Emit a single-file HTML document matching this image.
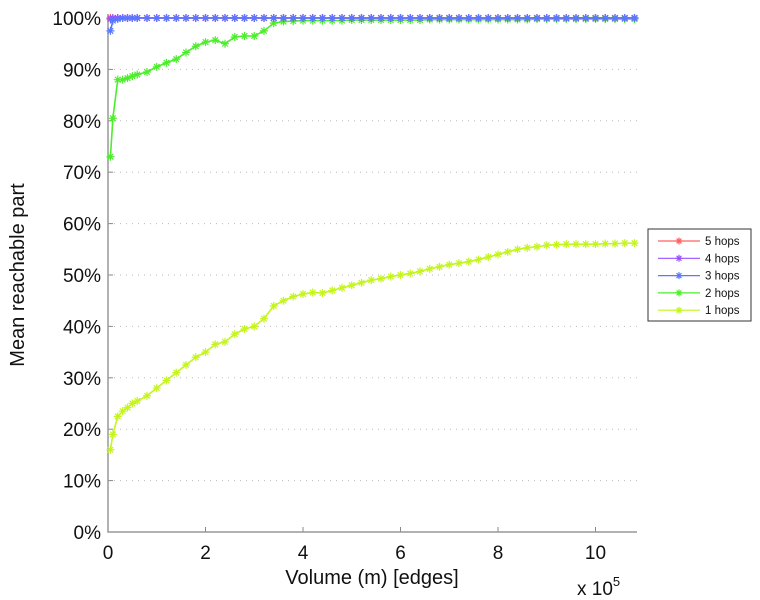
<!DOCTYPE html>
<html><head><meta charset="utf-8"><style>
body{margin:0;background:#fff;}
svg{display:block;font-family:"Liberation Sans",sans-serif;}
</style></head><body>
<svg id="chart" width="760" height="600"></svg>
<script>
const xs=[0.05,0.1,0.2,0.3,0.4,0.5,0.6,0.8,1.0,1.2,1.4,1.6,1.8,2.0,2.2,2.4,2.6,2.8,3.0,3.2,3.4,3.6,3.8,4.0,4.2,4.4,4.6,4.8,5.0,5.2,5.4,5.6,5.8,6.0,6.2,6.4,6.6,6.8,7.0,7.2,7.4,7.6,7.8,8.0,8.2,8.4,8.6,8.8,9.0,9.2,9.4,9.6,9.8,10.0,10.2,10.4,10.6,10.8];
const hop1=[16,19,22.5,23.5,24.2,25,25.5,26.5,28,29.5,31,32.5,34,35,36.5,37,38.5,39.5,40,41.5,44,45,45.8,46.3,46.6,46.5,47,47.5,48,48.5,49,49.3,49.7,50,50.3,50.7,51.2,51.6,52,52.3,52.6,53,53.5,54,54.5,55,55.3,55.5,55.8,55.9,56,56,56,56,56.1,56.1,56.2,56.2];
const hop2=[73,80.5,88,88,88.3,88.7,89,89.5,90.5,91.3,92,93.3,94.5,95.3,95.7,95,96.3,96.5,96.5,97.5,99,99.3,99.4,99.5,99.5,99.5,99.5,99.5,99.6,99.6,99.6,99.6,99.6,99.6,99.6,99.6,99.7,99.7,99.7,99.7,99.7,99.7,99.7,99.7,99.7,99.7,99.7,99.8,99.8,99.8,99.8,99.8,99.8,99.8,99.8,99.8,99.8,99.8];
const hop3=[97.5,99.5,99.8,100,100,100,100,100,100,100,100,100,100,100,100,100,100,100,100,100,100,100,100,100,100,100,100,100,100,100,100,100,100,100,100,100,100,100,100,100,100,100,100,100,100,100,100,100,100,100,100,100,100,100,100,100,100,100];
const hop4=[99.8,100,100,100,100,100,100,100,100,100,100,100,100,100,100,100,100,100,100,100,100,100,100,100,100,100,100,100,100,100,100,100,100,100,100,100,100,100,100,100,100,100,100,100,100,100,100,100,100,100,100,100,100,100,100,100,100,100];
const hop5=[100,100,100,100,100,100,100,100,100,100,100,100,100,100,100,100,100,100,100,100,100,100,100,100,100,100,100,100,100,100,100,100,100,100,100,100,100,100,100,100,100,100,100,100,100,100,100,100,100,100,100,100,100,100,100,100,100,100];
const xTicks=[0,2,4,6,8,10];
const xTickLabels=["0","2","4","6","8","10"];
const yTicks=[0,10,20,30,40,50,60,70,80,90,100];
const yTickLabels=["0%","10%","20%","30%","40%","50%","60%","70%","80%","90%","100%"];
const seriesNames=["5 hops","4 hops","3 hops","2 hops","1 hops"];
const seriesColors=["#ff6060","#9a50ff","#5a78ff","#4cee2c","#c4f51c"];

const svg=document.getElementById('chart');
const NS='http://www.w3.org/2000/svg';
const X0=108,X1=637,Y0=532,Y1=18;
const sx=v=>X0+v*48.75;
const sy=v=>Y0-(v/100)*(Y0-Y1);
function mk(tag,attrs,parent){const e=document.createElementNS(NS,tag);for(const k in attrs)e.setAttribute(k,attrs[k]);(parent||svg).appendChild(e);return e;}

yTicks.forEach((t,i)=>{
  const y=sy(t);
  if(t>0){const g=mk('line',{x1:X0,x2:X1,y1:y,y2:y,stroke:'#bbb','stroke-dasharray':'1,5'});
  
  }
  const tk=mk('line',{x1:X0,x2:X0+5,y1:y,y2:y,stroke:'#888'});
  
  
  const l=mk('text',{x:101,y:y+7,'text-anchor':'end','font-size':19,fill:'#111'});
  l.textContent=yTickLabels[i];
  
  
});
xTicks.forEach((t,i)=>{
  const x=sx(t);
  const tk=mk('line',{x1:x,x2:x,y1:Y0,y2:Y0-5,stroke:'#888'});
  
  
  const l=mk('text',{x:x,y:559,'text-anchor':'middle','font-size':19,fill:'#111'});
  l.textContent=xTickLabels[i];
  
  
});
const ax=mk('path',{d:`M${X0},${Y1-4}V${Y0}H${X1}`,fill:'none',stroke:'#999','stroke-width':1.5});



function star(g,x,y,c,r){
  mk('path',{d:`M${x-r},${y}H${x+r}M${x},${y-r}V${y+r}M${x-r*0.7},${y-r*0.7}L${x+r*0.7},${y+r*0.7}M${x-r*0.7},${y+r*0.7}L${x+r*0.7},${y-r*0.7}`,stroke:c,'stroke-width':1.2,fill:'none'},g);
}
const allSeries=[hop1,hop2,hop3,hop4,hop5];
const order=[0,1,4,3,2];
order.forEach(si=>{
  const vals=allSeries[si];
  const c=seriesColors[4-si];
  const g=mk('g',{});
  
  
  mk('polyline',{points:xs.map((x,i)=>sx(x)+','+sy(vals[i])).join(' '),fill:'none',stroke:c,'stroke-width':1.6},g);
  xs.forEach((x,i)=>star(g,sx(x),sy(vals[i]),c,4));
});

const lg=mk('g',{});


mk('rect',{x:648,y:229,width:103,height:92,fill:'#fff',stroke:'#333'},lg);
seriesNames.forEach((n,i)=>{
  const y=241+i*17.3;
  const e=mk('g',{},lg);
  
  
  mk('line',{x1:658,x2:700,y1:y,y2:y,stroke:seriesColors[i],'stroke-width':1.2},e);
  star(e,679,y,seriesColors[i],3.5);
  const t=mk('text',{x:705,y:y+4,'font-size':11.5,fill:'#111'},e);
  t.textContent=n;
});

const xt=mk('text',{x:372,y:584,'text-anchor':'middle','font-size':20,fill:'#111'});
xt.textContent='Volume (m) [edges]';


const ex=mk('text',{x:577,y:595,'font-size':19,fill:'#111'});
ex.innerHTML='x 10<tspan dy="-9" font-size="13">5</tspan>';


const yt=mk('text',{x:0,y:0,'text-anchor':'middle','font-size':20,fill:'#111',transform:'translate(24,275) rotate(-90)'});
yt.textContent='Mean reachable part';


</script>
</body></html>
